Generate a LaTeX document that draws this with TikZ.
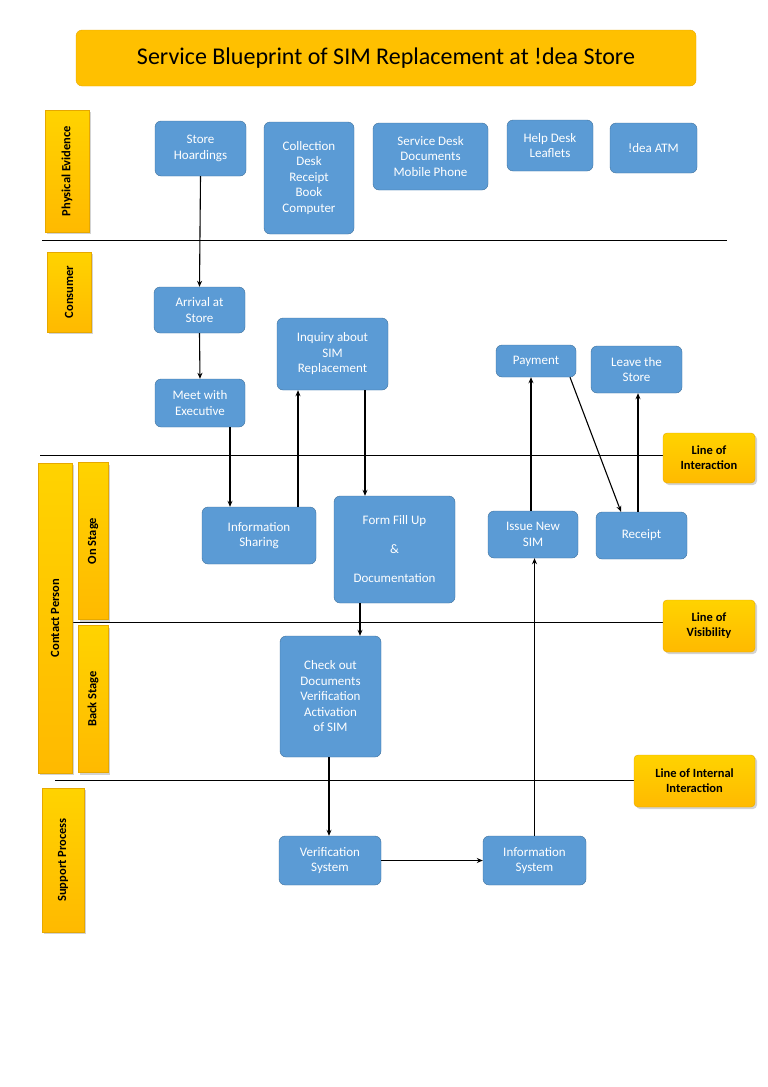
\documentclass[tikz,border=0pt]{standalone}
\usepackage{fontspec}
\setmainfont{Carlito}
\usetikzlibrary{arrows.meta,shadows}
\definecolor{bl}{HTML}{5B9BD5}
\definecolor{bld}{HTML}{41719C}
\definecolor{yl}{HTML}{FFC000}
\definecolor{yld}{HTML}{E6A800}
\begin{document}
\begin{tikzpicture}[x=1pt,y=-1pt,
 blue/.style={draw=bld,fill=bl,rounded corners=6pt,text=white,font=\fontsize{13}{15.5}\selectfont,align=center,inner sep=0pt},
 yel/.style={draw=yld,top color=yl!70!yellow,bottom color=yl!90!orange,rounded corners=4pt,font=\bfseries\fontsize{12.5}{15}\selectfont,align=center,inner sep=0pt,drop shadow={opacity=0.35,shadow xshift=2pt,shadow yshift=-2pt}},
 side/.style={draw=yld,top color=yl!70!yellow,bottom color=yl!90!orange,font=\bfseries\fontsize{12.5}{15}\selectfont,inner sep=0pt,drop shadow={opacity=0.35,shadow xshift=2pt,shadow yshift=-2pt}},
 arr/.style={-{Stealth[length=6pt,width=5pt]},line width=1.1pt},
 sep/.style={line width=0.8pt}]
\useasboundingbox (0,0) rectangle (768,1087);
\newcommand{\bx}[6]{\node[#6,minimum width={#4-#2},minimum height={#5-#3}] (#1) at ({(#2+#4)/2},{(#3+#5)/2}) {};}
% title
\node[draw=yld,fill=yl,rounded corners=6pt,minimum width=620,minimum height=56,font=\fontsize{24}{28}\selectfont] (title) at (386,58) {Service Blueprint of SIM Replacement at !dea Store};
% separators
\draw[sep] (42,240) -- (727,240);
\draw[sep] (40,455) -- (663,455);
\draw[sep] (72,622) -- (663,622);
\draw[sep] (55,780) -- (634,780);
% side labels
\node[side,minimum width=44,minimum height=122] (pe) at (67,171) {};
\node[rotate=90,font=\bfseries\fontsize{12.5}{15}\selectfont] (pet) at (pe) {Physical Evidence};
\node[side,minimum width=44,minimum height=80] (co) at (69,292) {};
\node[rotate=90,font=\bfseries\fontsize{12.5}{15}\selectfont] (cot) at (co) {Consumer};
\node[side,minimum width=34,minimum height=310] (cp) at (55,618) {};
\node[rotate=90,font=\bfseries\fontsize{12.5}{15}\selectfont] (cpt) at (cp) {Contact Person};
\node[side,minimum width=30,minimum height=157] (os) at (93,541) {};
\node[rotate=90,font=\bfseries\fontsize{12.5}{15}\selectfont] (ost) at (os) {On Stage};
\node[side,minimum width=30,minimum height=147] (bs) at (93,699) {};
\node[rotate=90,font=\bfseries\fontsize{12.5}{15}\selectfont] (bst) at (bs) {Back Stage};
\node[side,minimum width=42,minimum height=144] (sp) at (63,860) {};
\node[rotate=90,font=\bfseries\fontsize{12.5}{15}\selectfont] (spt) at (sp) {Support Process};
% line labels
\node[yel,minimum width=92,minimum height=50] (loi) at (709,458) {Line of\\Interaction};
\node[yel,minimum width=92,minimum height=52] (lov) at (709,626) {Line of\\Visibility};
\node[yel,minimum width=121,minimum height=52] (lii) at (694.5,781) {Line of Internal\\Interaction};
% blue boxes
\node[blue,minimum width=91,minimum height=55] (sh) at (200.5,148.5) {Store\\Hoardings};
\node[blue,minimum width=90,minimum height=112] (cd) at (309,178) {Collection\\Desk\\Receipt\\Book\\Computer};
\node[blue,minimum width=115,minimum height=67] (sd) at (430.5,156.5) {Service Desk\\Documents\\Mobile Phone};
\node[blue,minimum width=86,minimum height=51] (hd) at (550,145.5) {Help Desk\\Leaflets};
\node[blue,minimum width=87,minimum height=50] (atm) at (653.5,148) {!dea ATM};
\node[blue,minimum width=91,minimum height=46] (ar) at (199.5,310) {Arrival at\\Store};
\node[blue,minimum width=90,minimum height=48] (me) at (200,403) {Meet with\\Executive};
\node[blue,minimum width=111,minimum height=72] (iq) at (332.5,354) {Inquiry about\\SIM\\Replacement};
\node[blue,minimum width=80,minimum height=32] (pay) at (536,361) {Payment};
\node[blue,minimum width=91,minimum height=47] (ls) at (636.5,369.5) {Leave the\\Store};
\node[blue,minimum width=114,minimum height=57] (is) at (259,535.5) {Information\\Sharing};
\node[blue,minimum width=121,minimum height=107,font=\fontsize{13}{29}\selectfont] (ff) at (394.5,549.5) {Form Fill Up\\\&\\Documentation};
\node[blue,minimum width=90,minimum height=47] (ns) at (533,534.5) {Issue New\\SIM};
\node[blue,minimum width=91,minimum height=47] (rc) at (641.5,535.5) {Receipt};
\node[blue,minimum width=101,minimum height=121] (ck) at (330.5,696.5) {Check out\\Documents\\Verification\\Activation\\of SIM};
\node[blue,minimum width=102,minimum height=49] (vs) at (330,860.5) {Verification\\System};
\node[blue,minimum width=103,minimum height=49] (ins) at (534.5,860.5) {Information\\System};
% arrows
\draw[arr] (sh.south) -- (ar.north);
\draw[arr] (ar.south) -- (me.south|-me.north);
\draw[arr] (me.south-|230,0) -- (is.north-|230,0);
\draw[arr] (is.north-|298,0) -- (iq.south-|298,0);
\draw[arr] (iq.south-|365,0) -- (ff.north-|365,0);
\draw[arr] (ff.south-|360,0) -- (ck.north-|360,0);
\draw[arr] (ck.south-|329,0) -- (vs.north-|329,0);
\draw[arr] (vs.east) -- (ins.west);
\draw[arr] (ins.north) -- (ns.south-|ins.north);
\draw[arr] (ns.north-|531,0) -- (pay.south-|531,0);
\draw[arr] (pay.south-|570,0) -- (rc.north-|621,0);
\draw[arr] (rc.north-|638,0) -- (ls.south-|638,0);
\end{tikzpicture}
\end{document}
